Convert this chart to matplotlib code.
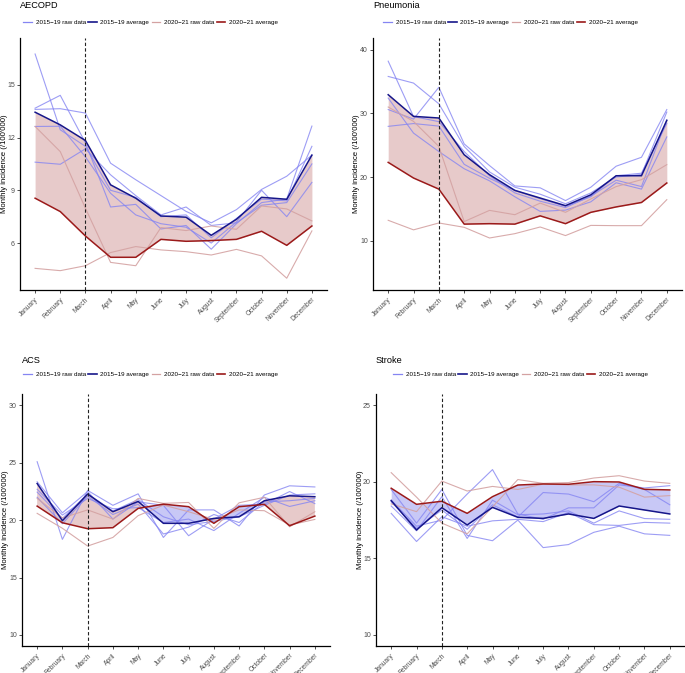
import numpy as np
import matplotlib
matplotlib.use("Agg")
import matplotlib.pyplot as plt
from matplotlib.lines import Line2D

plt.rcParams['font.family'] = ['Liberation Sans', 'DejaVu Sans']

W = 685
H = 673

months = ["January", "February", "March", "April", "May", "June", "July",
          "August", "September", "October", "November", "December"]

# ---- AECOPD ----
aecopd_raw_1519 = [
    [16.75, 12.44, 11.5, 9.0, 8.6, 7.5, 7.6, 6.3, 7.4, 8.5, 8.4, 11.5],
    [13.67, 14.4, 11.7, 8.05, 8.2, 6.8, 7.0, 5.65, 7.1, 8.3, 8.5, 12.65],
    [13.6, 13.64, 13.39, 10.54, 9.6, 8.7, 7.8, 7.15, 7.9, 9.05, 9.8, 11.0],
    [12.63, 12.64, 10.9, 8.83, 7.6, 7.1, 6.9, 6.0, 7.2, 9.0, 7.5, 9.45],
    [10.6, 10.48, 11.36, 9.88, 8.7, 7.6, 8.05, 7.0, 7.15, 8.15, 8.3, 10.5],
]
aecopd_avg_1519 = [13.44, 12.72, 11.83, 9.31, 8.55, 7.54, 7.47, 6.44, 7.35, 8.6, 8.49, 11.0]
aecopd_raw_2021 = [
    [12.63, 11.2, 7.98, 4.9, 4.71, 6.88, 6.71, 6.97, 6.78, 8.11, 7.94, 7.26],
    [4.56, 4.43, 4.71, 5.46, 5.8, 5.61, 5.51, 5.32, 5.64, 5.27, 4.0, 6.69],
]
aecopd_avg_2021 = [8.55, 7.79, 6.4, 5.19, 5.19, 6.21, 6.1, 6.14, 6.21, 6.67, 5.87, 6.97]

# ---- Pneumonia ----
pneu_raw_1519 = [
    [38.2, 29.5, 28.7, 24.0, 20.2, 17.5, 16.2, 15.2, 17.0, 19.5, 18.5, 29.0],
    [35.8, 34.76, 31.5, 24.8, 20.8, 18.4, 17.3, 15.8, 17.5, 20.0, 20.4, 30.2],
    [32.4, 26.9, 24.0, 21.3, 19.4, 16.9, 14.6, 14.8, 16.1, 19.1, 18.1, 26.3],
    [30.6, 29.1, 34.1, 25.2, 21.8, 18.6, 18.3, 16.3, 18.4, 21.7, 23.1, 30.6],
    [27.96, 28.4, 28.0, 22.0, 19.8, 17.9, 16.6, 15.4, 16.9, 20.2, 20.6, 28.4],
]
pneu_avg_1519 = [32.93, 29.53, 29.27, 23.5, 20.37, 17.9, 16.7, 15.5, 17.2, 20.2, 20.2, 28.9]
pneu_raw_2021 = [
    [31.0, 28.74, 24.8, 13.0, 14.76, 14.08, 15.9, 14.45, 16.55, 18.5, 19.58, 21.94],
    [13.2, 11.7, 12.78, 12.1, 10.42, 11.1, 12.15, 10.8, 12.4, 12.36, 12.36, 16.44],
]
pneu_avg_2021 = [22.3, 19.84, 18.1, 12.6, 12.67, 12.6, 13.9, 12.67, 14.45, 15.3, 16.0, 19.06]

# ---- ACS ----
acs_raw_1519 = [
    [25.1, 18.33, 22.6, 21.3, 22.3, 18.5, 20.9, 20.9, 19.5, 22.2, 23.0, 22.9],
    [23.35, 20.65, 22.5, 20.1, 21.6, 21.3, 18.65, 20.1, 21.3, 21.4, 22.5, 21.45],
    [22.7, 20.45, 21.9, 21.0, 21.1, 19.8, 20.1, 19.1, 20.6, 22.0, 21.2, 21.7],
    [22.45, 20.16, 22.3, 20.8, 21.8, 20.3, 19.6, 19.9, 20.3, 21.3, 22.2, 22.3],
    [22.0, 19.7, 22.1, 20.5, 21.4, 18.8, 19.4, 20.5, 19.8, 21.6, 21.7, 21.9],
]
acs_avg_1519 = [23.2, 19.96, 22.28, 20.74, 21.64, 19.73, 19.73, 20.16, 20.3, 21.7, 22.13, 22.05]
acs_raw_2021 = [
    [21.9, 20.2, 20.9, 20.1, 21.9, 21.47, 21.55, 19.29, 21.52, 22.0, 19.43, 20.74],
    [20.6, 19.3, 17.75, 18.5, 20.4, 21.32, 20.74, 20.07, 20.9, 20.83, 19.58, 20.07],
]
acs_avg_2021 = [21.23, 19.78, 19.26, 19.35, 21.03, 21.4, 21.18, 19.73, 21.18, 21.38, 19.52, 20.36]

# ---- Stroke ----
stroke_raw_1519 = [
    [19.5, 17.3, 19.5, 16.5, 16.15, 17.5, 15.7, 15.9, 16.7, 17.1, 16.6, 16.5],
    [18.81, 17.1, 17.5, 19.2, 20.8, 17.9, 17.55, 18.3, 18.3, 19.8, 19.6, 19.75],
    [18.7, 16.95, 18.16, 16.9, 18.5, 17.7, 19.3, 19.2, 18.7, 19.9, 19.5, 18.5],
    [18.42, 16.8, 19.03, 16.3, 18.8, 17.85, 17.9, 18.1, 17.3, 18.1, 17.6, 17.55],
    [17.94, 16.1, 17.72, 17.1, 17.45, 17.55, 17.4, 18.0, 17.2, 17.15, 17.35, 17.3],
]
stroke_avg_1519 = [18.77, 16.85, 18.31, 17.18, 18.33, 17.68, 17.61, 17.9, 17.61, 18.42, 18.16, 17.9]
stroke_raw_2021 = [
    [20.6, 19.0, 17.3, 16.6, 18.36, 20.15, 19.9, 19.95, 20.25, 20.4, 20.05, 19.9],
    [18.56, 18.05, 20.05, 19.4, 19.7, 19.5, 19.85, 19.8, 19.8, 19.65, 19.0, 19.1],
]
stroke_avg_2021 = [19.58, 18.53, 18.73, 17.94, 19.03, 19.79, 19.86, 19.84, 20.01, 19.99, 19.51, 19.47]

# colours
c_raw1 = '#8585f2'
c_avg1 = '#16168a'
c_raw2 = '#d4a2a2'
c_avg2 = '#9b1a1a'
fill_red = '#e7caca'
fill_blue = '#c8c8f6'


def px_axes(fig, l, t, r, b):
    return fig.add_axes([l / W, 1 - b / H, (r - l) / W, (b - t) / H])


def draw_panel(fig, box, title, raw1, avg1, raw2, avg2, ylim, yticks, title_xy, leg_xy, ylab_x):
    ax = px_axes(fig, *box)
    x = np.arange(len(months))
    a1 = np.array(avg1)
    a2 = np.array(avg2)
    ax.fill_between(x, a1, a2, where=a1 >= a2, interpolate=True,
                    color=fill_red, lw=0, zorder=1)
    ax.fill_between(x, a1, a2, where=a2 > a1, interpolate=True,
                    color=fill_blue, lw=0, zorder=1)
    for r in raw1:
        ax.plot(x, r, color=c_raw1, lw=0.8, alpha=0.8, zorder=2)
    for r in raw2:
        ax.plot(x, r, color=c_raw2, lw=0.8, alpha=0.9, zorder=2)
    ax.plot(x, a1, color=c_avg1, lw=1.1, zorder=3)
    ax.plot(x, a2, color=c_avg2, lw=1.1, zorder=3)
    ax.axvline(2, color='#222222', ls=(0, (3, 2)), lw=0.8, zorder=4)

    ax.set_xlim(-0.6, 11.6)
    ax.set_ylim(*ylim)
    ax.set_yticks(yticks)
    ax.set_xticks(x)
    ax.set_xticklabels(months, rotation=45, ha='right', rotation_mode='anchor',
                       fontsize=4.8, color='#4d4d4d')
    ax.tick_params(axis='y', labelsize=5.0, labelcolor='#4d4d4d', length=2.5,
                   width=0.6, pad=1.2, color='#333333')
    ax.tick_params(axis='x', length=2.5, width=0.6, pad=2, color='#333333')
    ax.set_ylabel("Monthly incidence (/100'000)", fontsize=5.6)
    ax.yaxis.set_label_coords((ylab_x - box[0]) / (box[2] - box[0]), 0.5)
    for s in ['top', 'right']:
        ax.spines[s].set_visible(False)
    for s in ['left', 'bottom']:
        ax.spines[s].set_linewidth(0.9)
        ax.spines[s].set_color('black')
    ax.set_facecolor('white')

    fig.text(title_xy[0] / W, 1 - title_xy[1] / H, title, fontsize=6.6,
             ha='left', va='top')

    handles = [Line2D([], [], color=c_raw1, lw=0.9),
               Line2D([], [], color=c_avg1, lw=1.2),
               Line2D([], [], color=c_raw2, lw=0.9),
               Line2D([], [], color=c_avg2, lw=1.2)]
    labels = ["2015\u221219 raw data", "2015\u221219 average",
              "2020\u221221 raw data", "2020\u221221 average"]
    ax.legend(handles, labels, loc='center left',
              bbox_to_anchor=(leg_xy[0] / W, 1 - leg_xy[1] / H),
              bbox_transform=fig.transFigure, ncol=4, frameon=False,
              fontsize=4.5, handlelength=1.4, handletextpad=0.6,
              columnspacing=0.35, borderaxespad=0, borderpad=0)
    return ax


fig = plt.figure(figsize=(W / 100, H / 100), dpi=100)

draw_panel(fig, (20, 38, 327, 290), "AECOPD", aecopd_raw_1519, aecopd_avg_1519,
           aecopd_raw_2021, aecopd_avg_2021, (3.33, 17.66), [6, 9, 12, 15],
           (20, 1), (23, 22.5), 8.5)
draw_panel(fig, (373, 38, 682, 290), "Pneumonia", pneu_raw_1519, pneu_avg_1519,
           pneu_raw_2021, pneu_avg_2021, (2.25, 41.84), [10, 20, 30, 40],
           (373, 1), (383, 22.5), 359.5)
draw_panel(fig, (22, 394, 330, 646), "ACS", acs_raw_1519, acs_avg_1519,
           acs_raw_2021, acs_avg_2021, (9.04, 31.0), [10, 15, 20, 25, 30],
           (22, 356), (23, 374), 9.5)
draw_panel(fig, (376, 394, 685, 646), "Stroke", stroke_raw_1519, stroke_avg_1519,
           stroke_raw_2021, stroke_avg_2021, (9.27, 25.74), [10, 15, 20, 25],
           (376, 356), (393, 374), 363.5)

fig.savefig("out.png", dpi=100, facecolor='white')
